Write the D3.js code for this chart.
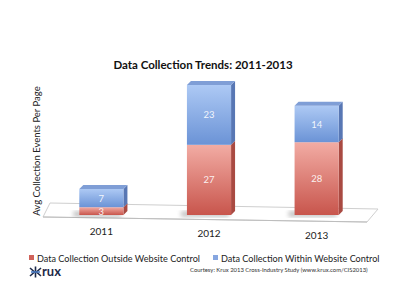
<!DOCTYPE html>
<html>
<head>
<meta charset="utf-8">
<script src="https://cdn.jsdelivr.net/npm/d3@7"></script>
<style>
  html, body { margin: 0; padding: 0; background: #fff; }
  svg { display: block; font-family: Lato, "Open Sans", sans-serif; }
</style>
</head>
<body>
<svg id="chart" width="405" height="303"></svg>
<script>
const years = ["2011", "2012", "2013"];
const outside = [3, 27, 28];
const within = [7, 23, 14];
const seriesNames = ["Data Collection Outside Website Control", "Data Collection Within Website Control"];

const svg = d3.select("#chart");
const defs = svg.append("defs");

// gradients for the front faces
function grad(id, top, bottom) {
  const g = defs.append("linearGradient").attr("id", id)
    .attr("x1", 0).attr("y1", 0).attr("x2", 0).attr("y2", 1);
  g.append("stop").attr("offset", "0%").attr("stop-color", top);
  g.append("stop").attr("offset", "100%").attr("stop-color", bottom);
}
grad("redFront", "#f2aca4", "#c8554c");
grad("blueFront", "#adc9f4", "#6b93d6");
defs.append("filter").attr("id", "blur")
  .append("feGaussianBlur").attr("stdDeviation", 2);

const x = d3.scaleBand().domain(years).range([47, 371]).paddingInner(0.59).paddingOuter(0.3);
const y = d3.scaleLinear().domain([0, 50]).range([215, 85]);
const depth = 4;

// title
svg.append("text")
  .attr("x", 203).attr("y", 69)
  .attr("text-anchor", "middle")
  .style("font-size", "11.5px").style("font-weight", "bold")
  .attr("fill", "#111")
  .text("Data Collection Trends: 2011-2013");

// y axis label
svg.append("text")
  .attr("transform", "translate(40,151) rotate(-90)")
  .attr("text-anchor", "middle")
  .style("font-size", "9.5px")
  .attr("fill", "#222")
  .text("Avg Collection Events  Per Page");

// floor
svg.append("path")
  .attr("d", "M43,217 L50,203 L378,209 L367,222 Z")
  .attr("fill", "#fff").attr("stroke", "#cfcfcf").attr("stroke-width", 1);
svg.append("path")
  .attr("d", "M43,217 L367,222")
  .attr("stroke", "#bdbdbd").attr("stroke-width", 1.2);

const stacks = years.map((yr, i) => ({ year: yr, segs: [
  { key: "red", y0: 0, y1: outside[i], v: outside[i] },
  { key: "blue", y0: outside[i], y1: outside[i] + within[i], v: within[i] }
]}));

const bars = svg.append("g").selectAll("g").data(stacks).join("g");

// shadows
bars.append("rect")
  .attr("x", d => x(d.year) - 6)
  .attr("y", y(0) - 4)
  .attr("width", x.bandwidth() + 4)
  .attr("height", 6)
  .attr("fill", "#999").attr("opacity", 0.55)
  .attr("filter", "url(#blur)");

const faceFill = { red: "url(#redFront)", blue: "url(#blueFront)" };
const sideFill = { red: "#a94a42", blue: "#5877b4" };

bars.each(function (d) {
  const g = d3.select(this);
  const x0 = x(d.year), x1 = x0 + x.bandwidth();
  d.segs.forEach(s => {
    const top = y(s.y1), bot = y(s.y0);
    g.append("path")
      .attr("d", `M${x1},${top} L${x1 + depth},${top - depth} L${x1 + depth},${bot - depth} L${x1},${bot} Z`)
      .attr("fill", sideFill[s.key]);
    g.append("rect")
      .attr("x", x0).attr("y", top)
      .attr("width", x.bandwidth()).attr("height", bot - top)
      .attr("fill", faceFill[s.key]);
    g.append("text")
      .attr("x", x0 + x.bandwidth() / 2)
      .attr("y", (top + bot) / 2 + 3.5)
      .attr("text-anchor", "middle")
      .style("font-size", "9.5px")
      .attr("fill", "#fff").attr("fill-opacity", 0.9)
      .text(s.v);
  });
  const t = y(d.segs[1].y1);
  g.append("path")
    .attr("d", `M${x0},${t} L${x0 + depth},${t - depth} L${x1 + depth},${t - depth} L${x1},${t} Z`)
    .attr("fill", "#7f9ed6");
});

// category labels
svg.append("g").selectAll("text").data(years).join("text")
  .attr("x", d => x(d) + x.bandwidth() / 2)
  .attr("y", d => 235 + (x(d) - 79) * 4 / 216)
  .attr("text-anchor", "middle")
  .style("font-size", "10px")
  .attr("fill", "#222")
  .text(d => d);

// legend
const legendColors = ["#d0625a", "#86a6e0"];
const legendX = [29, 213];
seriesNames.forEach((name, i) => {
  svg.append("rect")
    .attr("x", legendX[i]).attr("y", 255)
    .attr("width", 5).attr("height", 5)
    .attr("fill", legendColors[i]);
  svg.append("text")
    .attr("x", legendX[i] + 8).attr("y", 262)
    .style("font-size", "9.1px")
    .attr("fill", "#222")
    .text(name);
});

// krux logo
const logo = svg.append("g").attr("transform", "translate(30,276)");
logo.append("path")
  .attr("d", "M0,-8 L4.5,-4 L0,0 M11,-8 L6.5,-4 L11,0 M5.5,-9.5 L5.5,1.5")
  .attr("stroke", "#1d2a4a").attr("stroke-width", 1.6).attr("fill", "none");
logo.append("path")
  .attr("d", "M1,-4 L10,-4")
  .attr("stroke", "#4a7cc4").attr("stroke-width", 1.6);
logo.append("text")
  .attr("x", 12).attr("y", 0)
  .style("font-size", "13px").style("font-weight", "bold")
  .attr("fill", "#1d2a4a")
  .text("rux");

svg.append("text")
  .attr("x", 190).attr("y", 272)
  .style("font-size", "5.9px")
  .attr("fill", "#333")
  .text("Courtesy:  Krux 2013 Cross-Industry Study (www.krux.com/CIS2013)");
</script>
</body>
</html>
